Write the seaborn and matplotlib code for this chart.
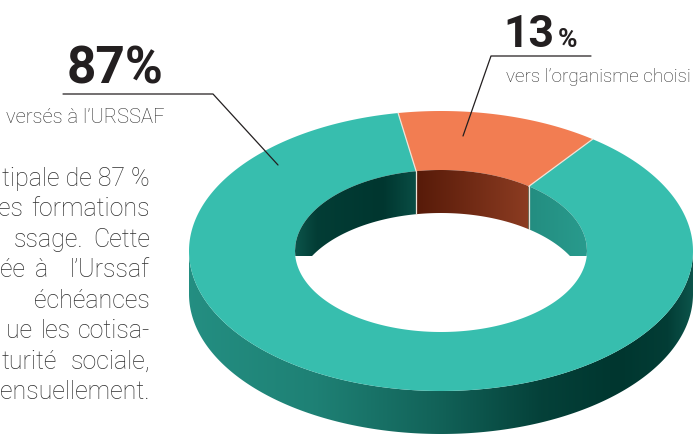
import numpy as np
import matplotlib
matplotlib.use("Agg")
import matplotlib.pyplot as plt
from matplotlib.patches import Polygon
from matplotlib.colors import to_rgb
import seaborn as sns

# ---------------- data ----------------
categories = ["versés à l’URSSAF", "vers l’organisme choisi"]
values = [87, 13]
pct_labels = ["87%", "13"]
top_colors = ["#37BEAE", "#F27D52"]
dark_colors = ["#00362F", "#471001"]

paragraph_words = [
    ["tipale de 87 %"],
    ["es", "formations"],
    ["ssage.", "Cette"],
    ["ée", "à", "l’Urssaf"],
    ["échéances"],
    ["ue", "les", "cotisa-"],
    ["turité", "sociale,"],
    ["ensuellement."],
]

# ---------------- layout ----------------
para_layout = [
    [(150, "right")],
    [(23, "right"), (150, "right")],
    [(83, "right"), (150, "right")],
    [(25, "right"), (35, "left"), (150, "right")],
    [(150, "right")],
    [(32, "right"), (41, "left"), (150, "right")],
    [(57, "right"), (150, "right")],
    [(150, "right")],
]
para_y0, para_dy = 186, 30.5

sns.set_theme(style="white")
plt.rcParams["font.family"] = ["Roboto", "DejaVu Sans"]

fig = plt.figure(figsize=(6.93, 4.35), dpi=100)
ax = fig.add_axes([0, 0, 1, 1])
ax.set_xlim(0, 693)
ax.set_ylim(435, 0)
ax.axis("off")

cx, cy = 441.0, 252.0
a_out, b_out = 252.0, 140.0
a_in, b_in = 146.0, 81.0
h = 43.0
start = 99.8

fr = np.array(values, float) / np.sum(values)
cum = np.concatenate([[0.0], np.cumsum(fr)])
bounds = start + 360.0 * cum


def slice_of(tdeg):
    f = ((np.asarray(tdeg) - start) % 360.0) / 360.0
    return np.clip(np.searchsorted(cum, f, side="right") - 1, 0, len(values) - 1)


def mix(c1, c2, k):
    c1 = np.array(to_rgb(c1)); c2 = np.array(to_rgb(c2))
    return c1 * (1 - k) + c2 * k


def ex(a, t):
    return cx + a * np.cos(np.radians(t))


def ey(b, t):
    return cy - b * np.sin(np.radians(t))


# ---- outer wall (front half) ----
N = 700
xs = np.linspace(cx - a_out, cx + a_out, N)
c = (xs - cx) / a_out
tt = 360 - np.degrees(np.arccos(np.clip(c, -1, 1)))
idx = slice_of(tt)
k_out = np.interp(c, [-1, -0.5, 0, 0.4, 0.7, 0.9, 1], [0.35, 0.45, 0.68, 0.92, 1.0, 0.95, 0.78])
img = np.array([mix(top_colors[i], dark_colors[i], k) for i, k in zip(idx, k_out)])[None, :, :]
tw = np.linspace(180, 360, 400)
wall = np.concatenate([np.c_[ex(a_out, tw), ey(b_out, tw)],
                       np.c_[ex(a_out, tw[::-1]), ey(b_out, tw[::-1]) + h]])
wp = Polygon(wall, closed=True, fc="none", ec="none", transform=ax.transData)
ax.add_patch(wp)
im = ax.imshow(img, extent=[xs[0], xs[-1], cy + b_out + h + 2, cy - 5], aspect="auto",
               interpolation="bilinear", zorder=1)
im.set_clip_path(wp)

# ---- top face ----
for i in range(len(values)):
    t = np.linspace(bounds[i], bounds[i + 1], 300)
    px = np.concatenate([ex(a_out, t), ex(a_in, t[::-1])])
    py = np.concatenate([ey(b_out, t), ey(b_in, t[::-1])])
    ax.fill(px, py, color=top_colors[i], lw=0, zorder=2)

# ---- inner wall (back half) ----
xs2 = np.linspace(cx - a_in, cx + a_in, N)
c2 = (xs2 - cx) / a_in
tt2 = np.degrees(np.arccos(np.clip(c2, -1, 1)))
idx2 = slice_of(tt2)
k_in_teal = np.interp(c2, [-1, -0.85, -0.4, -0.2, 0.3, 0.6, 1], [0.78, 0.95, 1.0, 0.85, 0.42, 0.36, 0.26])
k_in_or = np.interp(c2, [-0.2, 0.6], [0.92, 0.6])
k_in = [k_in_teal, k_in_or]
img2 = np.array([mix(top_colors[i], dark_colors[i], k_in[i][j]) for j, i in enumerate(idx2)])[None, :, :]
sq = np.sqrt(np.clip(1 - c2 ** 2, 0, 1))
y_back = cy - b_in * sq
y_front = cy + b_in * sq
y_low = np.minimum(y_back + h, y_front)
inner = np.concatenate([np.c_[xs2, y_back], np.c_[xs2[::-1], y_low[::-1]]])
ip = Polygon(inner, closed=True, fc="none", ec="none", transform=ax.transData)
ax.add_patch(ip)
im2 = ax.imshow(img2, extent=[xs2[0], xs2[-1], cy + 5, cy - b_in - 2], aspect="auto",
                interpolation="bilinear", zorder=3)
im2.set_clip_path(ip)

# ---- slice separators ----
sep = "#EFE3D8"
for th in bounds[:-1]:
    ax.plot([ex(a_in, th), ex(a_out, th)], [ey(b_in, th), ey(b_out, th)], color=sep, lw=0.9, zorder=4)
    s = np.sin(np.radians(th))
    if s > 0:
        xi, yi = ex(a_in, th), ey(b_in, th)
        yf = cy + b_in * np.sqrt(max(0, 1 - ((xi - cx) / a_in) ** 2))
        ax.plot([xi, xi], [yi, min(yi + h, yf)], color=sep, lw=0.9, zorder=4)
    else:
        xo, yo = ex(a_out, th), ey(b_out, th)
        ax.plot([xo, xo], [yo, yo + h], color=sep, lw=0.9, zorder=4)

# ---- annotations ----
ink = "#231F20"
txt = "#2E2E2E"
ax.plot([63, 213, 278], [95, 95, 166], color=ink, lw=0.9, zorder=5)
ax.plot([591, 491, 463], [57, 57, 137], color=ink, lw=0.9, zorder=5)

ax.text(67, 83, pct_labels[0], fontsize=37, fontweight="bold", color=ink, ha="left", va="baseline")
ax.text(165, 123, categories[0], fontsize=14.5, fontweight="light", color=txt, ha="right", va="baseline")
ax.text(503, 47, pct_labels[1], fontsize=32, fontweight="bold", color=ink, ha="left", va="baseline")
ax.text(558, 47, "%", fontsize=19, fontweight="bold", color=ink, ha="left", va="baseline")
ax.text(506, 82, categories[1], fontsize=13.6, fontweight="light", color=txt, ha="left", va="baseline")

for li, (words, lay) in enumerate(zip(paragraph_words, para_layout)):
    y = para_y0 + li * para_dy
    for w, (x, ha) in zip(words, lay):
        ax.text(x, y, w, fontsize=18, fontweight="light", color=txt, ha=ha, va="baseline")

fig.savefig("out.png", dpi=100, facecolor="white")
